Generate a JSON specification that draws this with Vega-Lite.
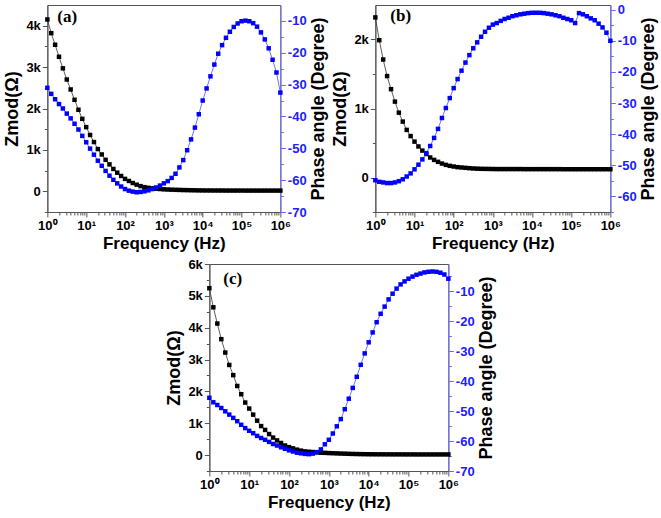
{
  "$schema": "https://vega.github.io/schema/vega-lite/v6.json",
  "padding": {"left": 3, "top": 3, "right": 3, "bottom": 2},
  "background": "white",
  "config": {
    "font": "Liberation Sans",
    "view": {"stroke": "#555", "strokeWidth": 1},
    "axis": {"labelFont": "Liberation Sans", "labelFontWeight": "bold", "labelFontSize": 13, "labelColor": "#000", "titleFont": "Liberation Sans", "titleFontWeight": "bold", "titleFontSize": 18, "titleColor": "#000", "grid": false, "domainColor": "#555", "tickColor": "#555", "labelPadding": 2, "labelOverlap": false}
  },
  "datasets": {
    "bode": [
      {"f": 1, "za": 4150, "pa": -31.0, "zb": 2320, "pb": -54.8, "zc": 5240, "pc": -45.6},
      {"f": 1.259, "za": 3820, "pa": -32.9, "zb": 1990, "pb": -55.3, "zc": 4640, "pc": -47.1},
      {"f": 1.585, "za": 3540, "pa": -34.6, "zb": 1710, "pb": -55.5, "zc": 4130, "pc": -48.0},
      {"f": 1.995, "za": 3250, "pa": -36.1, "zb": 1470, "pb": -55.7, "zc": 3640, "pc": -49.0},
      {"f": 2.512, "za": 2970, "pa": -37.5, "zb": 1280, "pb": -55.7, "zc": 3220, "pc": -50.1},
      {"f": 3.162, "za": 2700, "pa": -39.1, "zb": 1100, "pb": -55.5, "zc": 2830, "pc": -51.2},
      {"f": 3.981, "za": 2460, "pa": -40.6, "zb": 940, "pb": -55.1, "zc": 2510, "pc": -52.3},
      {"f": 5.012, "za": 2210, "pa": -42.3, "zb": 810, "pb": -54.5, "zc": 2170, "pc": -53.4},
      {"f": 6.31, "za": 1970, "pa": -44.1, "zb": 690, "pb": -53.6, "zc": 1910, "pc": -54.6},
      {"f": 7.943, "za": 1750, "pa": -46.1, "zb": 600, "pb": -52.6, "zc": 1650, "pc": -55.7},
      {"f": 10, "za": 1550, "pa": -48.1, "zb": 520, "pb": -51.3, "zc": 1460, "pc": -56.6},
      {"f": 12.59, "za": 1360, "pa": -50.1, "zb": 450, "pb": -49.8, "zc": 1270, "pc": -57.4},
      {"f": 15.85, "za": 1190, "pa": -52.0, "zb": 390, "pb": -48.1, "zc": 1080, "pc": -58.3},
      {"f": 19.95, "za": 1020, "pa": -53.9, "zb": 340, "pb": -46.1, "zc": 910, "pc": -59.0},
      {"f": 25.12, "za": 890, "pa": -55.5, "zb": 290, "pb": -43.8, "zc": 790, "pc": -59.6},
      {"f": 31.62, "za": 760, "pa": -57.1, "zb": 255, "pb": -41.2, "zc": 660, "pc": -60.3},
      {"f": 39.81, "za": 650, "pa": -58.6, "zb": 227, "pb": -38.3, "zc": 550, "pc": -61.0},
      {"f": 50.12, "za": 540, "pa": -59.9, "zb": 202, "pb": -34.8, "zc": 460, "pc": -61.5},
      {"f": 63.1, "za": 450, "pa": -61.0, "zb": 183, "pb": -31.6, "zc": 380, "pc": -62.1},
      {"f": 79.43, "za": 370, "pa": -62.0, "zb": 169, "pb": -28.4, "zc": 300, "pc": -62.6},
      {"f": 100, "za": 300, "pa": -62.8, "zb": 159, "pb": -25.2, "zc": 250, "pc": -63.1},
      {"f": 125.9, "za": 250, "pa": -63.3, "zb": 150, "pb": -22.3, "zc": 210, "pc": -63.5},
      {"f": 158.5, "za": 200, "pa": -63.6, "zb": 145, "pb": -19.6, "zc": 170, "pc": -63.9},
      {"f": 199.5, "za": 160, "pa": -63.8, "zb": 140, "pb": -17.0, "zc": 140, "pc": -64.1},
      {"f": 251.2, "za": 125, "pa": -63.7, "zb": 135, "pb": -14.6, "zc": 115, "pc": -64.3},
      {"f": 316.2, "za": 100, "pa": -63.5, "zb": 131, "pb": -12.4, "zc": 105, "pc": -64.4},
      {"f": 398.1, "za": 85, "pa": -63.2, "zb": 128, "pb": -10.5, "zc": 95, "pc": -64.2},
      {"f": 501.2, "za": 72, "pa": -62.8, "zb": 126, "pb": -8.7, "zc": 85, "pc": -63.7},
      {"f": 631, "za": 62, "pa": -62.3, "zb": 125, "pb": -7.1, "zc": 75, "pc": -62.8},
      {"f": 794.3, "za": 55, "pa": -61.7, "zb": 124, "pb": -5.8, "zc": 70, "pc": -61.1},
      {"f": 1000, "za": 48, "pa": -61.0, "zb": 123, "pb": -4.8, "zc": 63, "pc": -59.6},
      {"f": 1259, "za": 43, "pa": -60.3, "zb": 122, "pb": -4.3, "zc": 58, "pc": -57.5},
      {"f": 1585, "za": 39, "pa": -59.3, "zb": 122, "pb": -3.6, "zc": 53, "pc": -55.1},
      {"f": 1995, "za": 36, "pa": -58.0, "zb": 122, "pb": -3.0, "zc": 48, "pc": -52.7},
      {"f": 2512, "za": 33, "pa": -56.0, "zb": 122, "pb": -2.6, "zc": 44, "pc": -49.4},
      {"f": 3162, "za": 30, "pa": -53.7, "zb": 122, "pb": -2.1, "zc": 40, "pc": -45.9},
      {"f": 3981, "za": 28, "pa": -50.6, "zb": 122, "pb": -1.8, "zc": 36, "pc": -42.3},
      {"f": 5012, "za": 26, "pa": -47.2, "zb": 122, "pb": -1.5, "zc": 33, "pc": -38.6},
      {"f": 6310, "za": 24, "pa": -43.5, "zb": 121, "pb": -1.3, "zc": 30, "pc": -34.6},
      {"f": 7943, "za": 22, "pa": -39.3, "zb": 121, "pb": -1.1, "zc": 28, "pc": -30.8},
      {"f": 10000, "za": 21, "pa": -35.0, "zb": 121, "pb": -1.0, "zc": 26, "pc": -27.1},
      {"f": 12590, "za": 20, "pa": -31.2, "zb": 121, "pb": -1.0, "zc": 25, "pc": -23.8},
      {"f": 15850, "za": 20, "pa": -27.4, "zb": 121, "pb": -1.0, "zc": 24, "pc": -20.4},
      {"f": 19950, "za": 19, "pa": -23.7, "zb": 121, "pb": -1.1, "zc": 24, "pc": -17.6},
      {"f": 25120, "za": 19, "pa": -20.3, "zb": 121, "pb": -1.3, "zc": 23, "pc": -15.2},
      {"f": 31620, "za": 19, "pa": -17.6, "zb": 121, "pb": -1.5, "zc": 23, "pc": -12.8},
      {"f": 39810, "za": 18, "pa": -15.3, "zb": 121, "pb": -1.8, "zc": 22, "pc": -10.9},
      {"f": 50120, "za": 18, "pa": -13.4, "zb": 121, "pb": -2.1, "zc": 22, "pc": -9.2},
      {"f": 63100, "za": 18, "pa": -11.9, "zb": 120, "pb": -2.6, "zc": 22, "pc": -7.8},
      {"f": 79430, "za": 18, "pa": -10.8, "zb": 120, "pb": -3.0, "zc": 21, "pc": -6.8},
      {"f": 100000, "za": 18, "pa": -10.1, "zb": 120, "pb": -3.4, "zc": 21, "pc": -5.9},
      {"f": 125900, "za": 17, "pa": -9.9, "zb": 120, "pb": -4.3, "zc": 21, "pc": -5.2},
      {"f": 158500, "za": 17, "pa": -10.1, "zb": 120, "pb": -1.1, "zc": 20, "pc": -4.6},
      {"f": 199500, "za": 17, "pa": -10.7, "zb": 120, "pb": -1.5, "zc": 20, "pc": -4.2},
      {"f": 251200, "za": 17, "pa": -11.8, "zb": 120, "pb": -2.1, "zc": 20, "pc": -3.8},
      {"f": 316200, "za": 17, "pa": -13.6, "zb": 120, "pb": -2.8, "zc": 20, "pc": -3.6},
      {"f": 398100, "za": 17, "pa": -15.8, "zb": 120, "pb": -3.4, "zc": 20, "pc": -3.5},
      {"f": 501200, "za": 17, "pa": -18.6, "zb": 120, "pb": -4.5, "zc": 20, "pc": -3.6},
      {"f": 631000, "za": 17, "pa": -22.2, "zb": 120, "pb": -5.7, "zc": 20, "pc": -3.9},
      {"f": 794300, "za": 17, "pa": -26.2, "zb": 120, "pb": -7.4, "zc": 20, "pc": -4.5},
      {"f": 1000000, "za": 17, "pa": -32.5, "zb": 120, "pb": -10.0, "zc": 20, "pc": -5.9}
    ]
  },
  "center": true,
  "spacing": 5,
  "vconcat": [
    {
      "spacing": 3,
      "hconcat": [
        {
          "data": {"name": "bode"},
          "width": 233, "height": 207,
          "title": {"text": "(a)", "anchor": "start", "frame": "group", "offset": -21, "dx": 10, "font": "Liberation Serif", "fontSize": 17, "fontWeight": "bold", "color": "#000"},
          "encoding": {
            "x": {"field": "f", "type": "quantitative", "scale": {"type": "log", "domain": [1, 1000000]},
              "axis": {"title": "Frequency (Hz)", "titleFontSize": 17, "titlePadding": 3, "labelFlush": false, "labelOverlap": false,
                "values": [1,2,3,4,5,6,7,8,9,10,20,30,40,50,60,70,80,90,100,200,300,400,500,600,700,800,900,1000,2000,3000,4000,5000,6000,7000,8000,9000,10000,20000,30000,40000,50000,60000,70000,80000,90000,100000,200000,300000,400000,500000,600000,700000,800000,900000,1000000],
                "labelExpr": "datum.value==1?'10⁰':datum.value==10?'10¹':datum.value==100?'10²':datum.value==1000?'10³':datum.value==10000?'10⁴':datum.value==100000?'10⁵':datum.value==1000000?'10⁶':''",
                "tickSize": {"condition": {"test": "indexof([1,10,100,1000,10000,100000,1000000], datum.value) >= 0", "value": 5}, "value": 3}}}
          },
          "layer": [
            {
              "encoding": {"y": {"field": "za", "type": "quantitative", "scale": {"domain": [-500, 4500], "nice": false, "zero": false},
                "axis": {"title": "Zmod(Ω)", "titlePadding": 4, "labelOverlap": false, "values": [-500,0,500,1000,1500,2000,2500,3000,3500,4000],
                  "labelExpr": "datum.value % 1000 == 0 ? (datum.value == 0 ? '0' : (datum.value/1000) + 'k') : ''",
                  "tickSize": {"condition": {"test": "datum.value % 1000 == 0", "value": 5}, "value": 3}}}},
              "layer": [
                {"mark": {"type": "line", "color": "#333", "strokeWidth": 0.8}, "encoding": {}},
                {"mark": {"type": "square", "color": "#000", "size": 20, "opacity": 1}, "encoding": {}}
              ]
            },
            {
              "encoding": {"y": {"field": "pa", "type": "quantitative", "scale": {"domain": [-70, -5], "nice": false, "zero": false},
                "axis": {"orient": "right", "title": "Phase angle (Degree)", "titleAngle": 270, "titleBaseline": "top", "titlePadding": 3, "labelOverlap": false, "labelColor": "#2020ff", "domainColor": "#6a6aff", "tickColor": "#6a6aff",
                  "values": [-70,-65,-60,-55,-50,-45,-40,-35,-30,-25,-20,-15,-10],
                  "labelExpr": "datum.value % 10 == 0 ? '' + datum.value : ''",
                  "tickSize": {"condition": {"test": "datum.value % 10 == 0", "value": 5}, "value": 3}}}},
              "layer": [
                {"mark": {"type": "line", "color": "#4b4bff", "strokeWidth": 0.8}, "encoding": {}},
                {"mark": {"type": "square", "color": "#0000ff", "size": 20, "opacity": 1}, "encoding": {}}
              ]
            }
          ],
          "resolve": {"scale": {"y": "independent"}}
        },
        {
          "data": {"name": "bode"},
          "width": 235, "height": 207,
          "title": {"text": "(b)", "anchor": "start", "frame": "group", "offset": -21, "dx": 15, "font": "Liberation Serif", "fontSize": 17, "fontWeight": "bold", "color": "#000"},
          "encoding": {
            "x": {"field": "f", "type": "quantitative", "scale": {"type": "log", "domain": [1, 1000000]},
              "axis": {"title": "Frequency (Hz)", "titleFontSize": 17, "titlePadding": 3, "labelFlush": false, "labelOverlap": false,
                "values": [1,2,3,4,5,6,7,8,9,10,20,30,40,50,60,70,80,90,100,200,300,400,500,600,700,800,900,1000,2000,3000,4000,5000,6000,7000,8000,9000,10000,20000,30000,40000,50000,60000,70000,80000,90000,100000,200000,300000,400000,500000,600000,700000,800000,900000,1000000],
                "labelExpr": "datum.value==1?'10⁰':datum.value==10?'10¹':datum.value==100?'10²':datum.value==1000?'10³':datum.value==10000?'10⁴':datum.value==100000?'10⁵':datum.value==1000000?'10⁶':''",
                "tickSize": {"condition": {"test": "indexof([1,10,100,1000,10000,100000,1000000], datum.value) >= 0", "value": 5}, "value": 3}}}
          },
          "layer": [
            {
              "encoding": {"y": {"field": "zb", "type": "quantitative", "scale": {"domain": [-500, 2500], "nice": false, "zero": false},
                "axis": {"title": "Zmod(Ω)", "titlePadding": 4, "labelOverlap": false, "values": [-500,0,500,1000,1500,2000],
                  "labelExpr": "datum.value % 1000 == 0 ? (datum.value == 0 ? '0' : (datum.value/1000) + 'k') : ''",
                  "tickSize": {"condition": {"test": "datum.value % 1000 == 0", "value": 5}, "value": 3}}}},
              "layer": [
                {"mark": {"type": "line", "color": "#333", "strokeWidth": 0.8}, "encoding": {}},
                {"mark": {"type": "square", "color": "#000", "size": 20, "opacity": 1}, "encoding": {}}
              ]
            },
            {
              "encoding": {"y": {"field": "pb", "type": "quantitative", "scale": {"domain": [-65, 1.5], "nice": false, "zero": false},
                "axis": {"orient": "right", "title": "Phase angle (Degree)", "titleAngle": 270, "titleBaseline": "top", "titlePadding": 3, "labelOverlap": false, "labelColor": "#2020ff", "domainColor": "#6a6aff", "tickColor": "#6a6aff",
                  "values": [-65,-60,-55,-50,-45,-40,-35,-30,-25,-20,-15,-10,-5,0],
                  "labelExpr": "datum.value % 10 == 0 ? '' + datum.value : ''",
                  "tickSize": {"condition": {"test": "datum.value % 10 == 0", "value": 5}, "value": 3}}}},
              "layer": [
                {"mark": {"type": "line", "color": "#4b4bff", "strokeWidth": 0.8}, "encoding": {}},
                {"mark": {"type": "square", "color": "#0000ff", "size": 20, "opacity": 1}, "encoding": {}}
              ]
            }
          ],
          "resolve": {"scale": {"y": "independent"}}
        }
      ]
    },
    {
      "data": {"name": "bode"},
      "width": 239, "height": 207,
      "title": {"text": "(c)", "anchor": "start", "frame": "group", "offset": -30, "dx": 14, "font": "Liberation Serif", "fontSize": 17, "fontWeight": "bold", "color": "#000"},
      "encoding": {
        "x": {"field": "f", "type": "quantitative", "scale": {"type": "log", "domain": [1, 1000000]},
          "axis": {"title": "Frequency (Hz)", "titleFontSize": 17, "titlePadding": 3, "labelFlush": false, "labelOverlap": false,
            "values": [1,2,3,4,5,6,7,8,9,10,20,30,40,50,60,70,80,90,100,200,300,400,500,600,700,800,900,1000,2000,3000,4000,5000,6000,7000,8000,9000,10000,20000,30000,40000,50000,60000,70000,80000,90000,100000,200000,300000,400000,500000,600000,700000,800000,900000,1000000],
            "labelExpr": "datum.value==1?'10⁰':datum.value==10?'10¹':datum.value==100?'10²':datum.value==1000?'10³':datum.value==10000?'10⁴':datum.value==100000?'10⁵':datum.value==1000000?'10⁶':''",
            "tickSize": {"condition": {"test": "indexof([1,10,100,1000,10000,100000,1000000], datum.value) >= 0", "value": 5}, "value": 3}}}
      },
      "layer": [
        {
          "encoding": {"y": {"field": "zc", "type": "quantitative", "scale": {"domain": [-500, 6000], "nice": false, "zero": false},
            "axis": {"title": "Zmod(Ω)", "titlePadding": 4, "labelOverlap": false, "values": [-500,0,500,1000,1500,2000,2500,3000,3500,4000,4500,5000,5500,6000],
              "labelExpr": "datum.value % 1000 == 0 ? (datum.value == 0 ? '0' : (datum.value/1000) + 'k') : ''",
              "tickSize": {"condition": {"test": "datum.value % 1000 == 0", "value": 5}, "value": 3}}}},
          "layer": [
            {"mark": {"type": "line", "color": "#333", "strokeWidth": 0.8}, "encoding": {}},
            {"mark": {"type": "square", "color": "#000", "size": 20, "opacity": 1}, "encoding": {}}
          ]
        },
        {
          "encoding": {"y": {"field": "pc", "type": "quantitative", "scale": {"domain": [-70, -1], "nice": false, "zero": false},
            "axis": {"orient": "right", "title": "Phase angle (Degree)", "titleAngle": 270, "titleBaseline": "top", "titlePadding": 3, "labelOverlap": false, "labelColor": "#2020ff", "domainColor": "#6a6aff", "tickColor": "#6a6aff",
              "values": [-70,-65,-60,-55,-50,-45,-40,-35,-30,-25,-20,-15,-10,-5],
              "labelExpr": "datum.value % 10 == 0 ? '' + datum.value : ''",
              "tickSize": {"condition": {"test": "datum.value % 10 == 0", "value": 5}, "value": 3}}}},
          "layer": [
            {"mark": {"type": "line", "color": "#4b4bff", "strokeWidth": 0.8}, "encoding": {}},
            {"mark": {"type": "square", "color": "#0000ff", "size": 20, "opacity": 1}, "encoding": {}}
          ]
        }
      ],
      "resolve": {"scale": {"y": "independent"}}
    }
  ]
}
